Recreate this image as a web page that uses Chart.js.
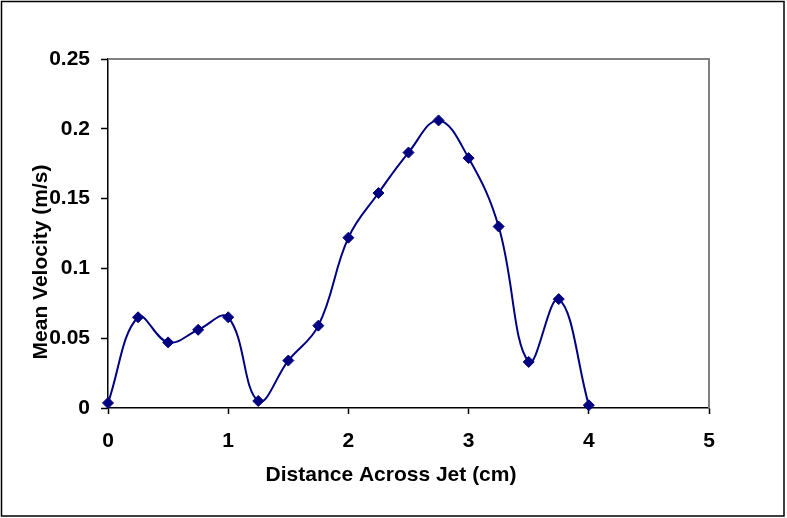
<!DOCTYPE html>
<html>
<head>
  <title>Mean Velocity Across Jet</title>
  <style>
    html, body { margin: 0; padding: 0; background: #fff; }
    #wrap { width: 787px; height: 518px; }
  </style>
</head>
<body>
<div id="wrap">
  <canvas id="jetChart" width="787" height="518"></canvas>
</div>

<script src="https://cdn.jsdelivr.net/npm/chart.js"></script>
<script>
  // values
  const distance = [0, 0.25, 0.5, 0.75, 1, 1.25, 1.5, 1.75, 2, 2.25, 2.5, 2.75, 3, 3.25, 3.5, 3.75, 4];
  const velocity = [0.0036, 0.065, 0.047, 0.056, 0.065, 0.005, 0.034, 0.059, 0.122, 0.154, 0.183, 0.206, 0.179, 0.130, 0.033, 0.078, 0.002];

  const xTicks = [0, 1, 2, 3, 4, 5];
  const yTicks = [0, 0.05, 0.1, 0.15, 0.2, 0.25];

  const xTitle = 'Distance Across Jet (cm)';
  const yTitle = 'Mean Velocity (m/s)';

  const lineColor = '#000080';
  const fontFam = '"Liberation Sans", Arial, sans-serif';

  let points = [];
  distance.forEach((d, i) => {
    points.push({x: d, y: velocity[i]});
  });

  // frame, gray plot border and the two axis titles
  const decorations = {
    id: 'decorations',
    beforeDatasetsDraw(chart) {
      const c = chart.ctx;
      const a = chart.chartArea;
      c.save();
      c.strokeStyle = '#808080';
      c.lineWidth = 2;
      c.beginPath();
      c.moveTo(a.left, a.top);
      c.lineTo(a.right, a.top);
      c.lineTo(a.right, a.bottom);
      c.stroke();
      c.restore();
    },
    afterDraw(chart) {
      const c = chart.ctx;
      c.save();
      c.strokeStyle = '#000';
      c.lineWidth = 1.5;
      c.strokeRect(1.5, 1.5, 782.5, 514.5);

      c.fillStyle = '#000';
      c.font = 'bold 21px ' + fontFam;
      c.textAlign = 'center';
      c.textBaseline = 'middle';
      c.fillText(xTitle, 391, 475);

      c.translate(41, 262);
      c.rotate(-Math.PI / 2);
      c.fillText(yTitle, 0, 0);
      c.restore();
    }
  };

  new Chart(document.getElementById('jetChart'), {
    type: 'scatter',
    data: {
      datasets: [{
        data: points,
        showLine: true,
        borderColor: lineColor,
        backgroundColor: lineColor,
        borderWidth: 2,
        tension: 0.4,
        pointStyle: 'rectRot',
        pointRadius: 5.5,
        pointHoverRadius: 5.5,
        pointBorderWidth: 1,
        pointBorderColor: lineColor,
        clip: false
      }]
    },
    options: {
      responsive: false,
      animation: false,
      devicePixelRatio: 1,
      layout: {
        padding: {top: 59, right: 78, left: 0, bottom: 0}
      },
      plugins: {
        legend: {display: false},
        tooltip: {enabled: false}
      },
      scales: {
        x: {
          type: 'linear',
          min: 0,
          max: 5,
          afterBuildTicks: scale => {
            scale.ticks = xTicks.map(v => ({value: v}));
          },
          afterFit: scale => {
            scale.height = 110;
          },
          grid: {
            drawOnChartArea: false,
            drawTicks: true,
            tickLength: 6,
            tickWidth: 1.5,
            tickColor: '#000'
          },
          border: {color: '#000', width: 1.5},
          ticks: {
            color: '#000',
            padding: 15,
            maxRotation: 0,
            font: {family: fontFam, size: 21, weight: 'bold'}
          }
        },
        y: {
          type: 'linear',
          min: 0,
          max: 0.25,
          afterBuildTicks: scale => {
            scale.ticks = yTicks.map(v => ({value: v}));
          },
          afterFit: scale => {
            scale.width = 108;
          },
          grid: {
            drawOnChartArea: false,
            drawTicks: true,
            tickLength: 7,
            tickWidth: 1.5,
            tickColor: '#000'
          },
          border: {color: '#000', width: 1.5},
          ticks: {
            color: '#000',
            padding: 11,
            font: {family: fontFam, size: 21, weight: 'bold'},
            callback: v => String(v)
          }
        }
      }
    },
    plugins: [decorations]
  });
</script>
</body>
</html>
